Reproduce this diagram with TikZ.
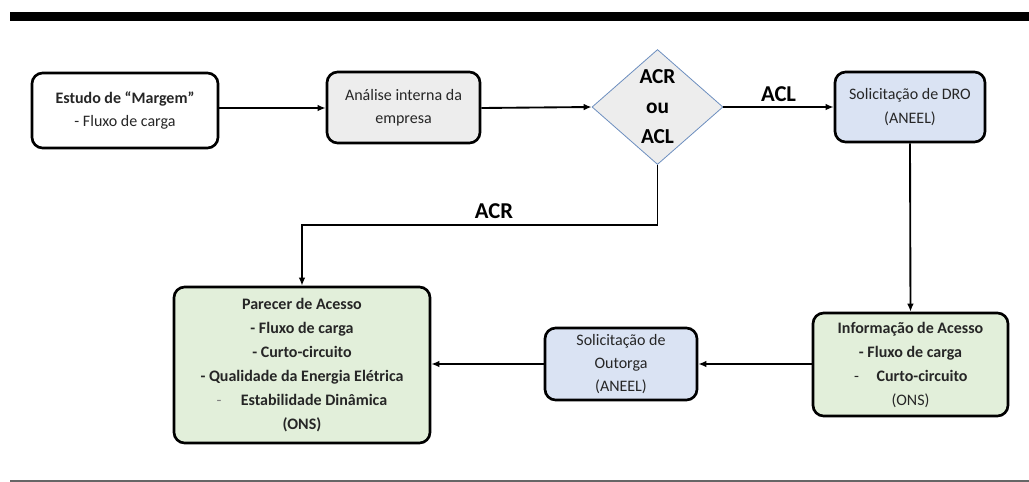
\documentclass[tikz,border=0pt]{standalone}
\usepackage{fontspec}
\setmainfont{Carlito}
\usetikzlibrary{shapes.geometric,arrows.meta}
\definecolor{boxgray}{HTML}{EDEDED}
\definecolor{boxblue}{HTML}{DAE3F3}
\definecolor{boxgreen}{HTML}{E2EFDA}
\definecolor{diaedge}{HTML}{6C8EBF}
\definecolor{txt}{HTML}{262626}
\tikzset{
  box/.style={draw=black, line width=2pt, rounded corners=8pt, align=center,
    inner sep=2pt, text=txt, font=\fontsize{12}{17.5}\selectfont},
  dia/.style={diamond, draw=diaedge, line width=0.6pt, fill=boxgray, inner sep=0pt},
  conn/.style={line width=1.4pt, -{Latex[length=6pt,width=5pt]}},
  lbl/.style={font=\bfseries\fontsize{17}{20}\selectfont, text=black},
}
\begin{document}
\begin{tikzpicture}[x=0.75pt,y=-0.75pt]
\useasboundingbox (0,0) rectangle (1029,482);
% rules
\fill[black] (10,12) rectangle (1029,21);
\fill[gray!80!black] (10,480) rectangle (1029,482);
% nodes
\node[box, fill=white, minimum width=186*0.75pt, minimum height=75*0.75pt] (est) at (125,110.5)
  {\textbf{Estudo de “Margem”}\\- Fluxo de carga};
\node[box, fill=boxgray, minimum width=153*0.75pt, minimum height=71*0.75pt] (ana) at (403.5,107.5)
  {Análise interna da\\empresa};
\node[dia, minimum width=131*0.75pt, minimum height=115*0.75pt] (dec) at (657.5,107) {};
\node[align=center, font=\bfseries\fontsize{16}{22.5}\selectfont, text=black] (dect) at (dec) {ACR\\ou\\ACL};
\node[box, fill=boxblue, minimum width=150*0.75pt, minimum height=70*0.75pt] (dro) at (910,107)
  {Solicitação de DRO\\(ANEEL)};
\node[box, fill=boxgreen, minimum width=195*0.75pt, minimum height=103*0.75pt, font=\fontsize{12}{18}\selectfont] (inf) at (910.5,364.5)
  {\textbf{Informação de Acesso}\\\textbf{- Fluxo de carga}\\\hspace*{1.45em}\llap{-\hspace{1.1em}}\textbf{Curto-circuito}\\(ONS)};
\node[box, fill=boxblue, minimum width=152*0.75pt, minimum height=72*0.75pt] (out) at (621,364)
  {Solicitação de\\Outorga\\(ANEEL)};
\node[box, fill=boxgreen, minimum width=256*0.75pt, minimum height=156*0.75pt, font=\fontsize{12}{18}\selectfont] (par) at (302,365)
  {\textbf{Parecer de Acesso}\\\textbf{- Fluxo de carga}\\\textbf{- Curto-circuito}\\\textbf{- Qualidade da Energia Elétrica}\\\hspace*{1.5em}\llap{{\color{gray}-}\hspace{1.2em}}\textbf{Estabilidade Dinâmica}\\\textbf{(ONS)}};
% connectors
\draw[conn] (est.east |- 0,108) -- (ana.west |- 0,108);
\draw[conn] (ana.east |- 0,108) -- (dec.west);
\draw[conn] (dec.east) -- node[lbl, above=0pt] (acl) {ACL} (dro.west |- dec.east);
\draw[conn] (dro.south) -- (inf.north);
\draw[conn] (inf.west |- 0,364) -- (out.east |- 0,364);
\draw[conn] (out.west |- 0,364) -- (par.east |- 0,364);
\coordinate (c1) at (657.5,225);
\coordinate (c2) at (302,225);
\draw[conn] (dec.south) -- (c1) -- node[lbl, above=1pt, pos=0.46] (acr) {ACR} (c2) -- (par.north);
\end{tikzpicture}
\end{document}
